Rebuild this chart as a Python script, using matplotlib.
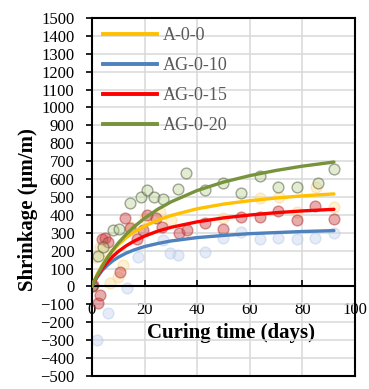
import matplotlib.pyplot as plt
from matplotlib.lines import Line2D

plt.rcParams['font.family'] = ['Liberation Serif', 'DejaVu Serif']

# measured points
a00_t = [0, 1, 3, 5, 7, 10, 12, 15, 20, 26, 30, 50, 64, 71, 78, 85, 92]
a00_y = [0, 166, 222, 200, 20, 55, 120, 330, 380, 418, 372, 381, 493, 502, 418, 558, 446]

ag10_t = [0, 1.8, 6.2, 13.2, 17.6, 27.1, 29.7, 32.9, 43, 50, 56.8, 63.9, 70.8, 77.8, 84.8, 92]
ag10_y = [0, -299, -150, -10, 166, 260, 185, 176, 194, 269, 306, 264, 269, 264, 269, 300]

ag15_t = [0, 0.5, 2.4, 3, 3.7, 5, 6, 10.6, 12.5, 14.4, 17, 19.5, 20.8, 24.3, 26.8, 33, 36, 43, 50,
          56.8, 63.9, 70.8, 77.8, 84.8, 92]
ag15_y = [0, 8, -94, -47, 267, 270, 250, 83, 381, 325, 264, 316, 399, 381, 331, 301, 316, 353, 320,
          390, 390, 423, 372, 451, 377]

ag20_t = [0, 2.4, 4.3, 8, 10.4, 14.4, 18.6, 20.8, 23.8, 26.9, 32.6, 35.7, 43, 49.9, 56.8, 63.9,
          70.8, 77.8, 86, 92]
ag20_y = [0, 170, 220, 316, 320, 465, 498, 539, 502, 490, 545, 632, 539, 576, 524, 617, 554, 558,
          576, 655]

# trend curves
fit_t = [0, 1, 2, 4, 6, 8, 10, 13, 16, 20, 25, 30, 40, 50, 60, 70, 80, 92]
fit_a00 = [0, 36, 67, 121, 166, 202, 233, 272, 304, 337, 370, 396, 434, 460, 479, 494, 506, 517]
fit_ag10 = [0, 28, 52, 91, 120, 144, 163, 186, 204, 223, 240, 254, 273, 285, 295, 301, 307, 312]
fit_ag15 = [0, 30, 56, 101, 138, 169, 195, 227, 253, 281, 309, 330, 361, 383, 399, 412, 422, 431]
fit_ag20 = [0, 32, 62, 115, 163, 205, 242, 291, 333, 381, 431, 472, 536, 583, 619, 648, 672, 695]

labels = ['A-0-0', 'AG-0-10', 'AG-0-15', 'AG-0-20']
line_colors = ['#FFC000', '#4F81BD', '#FF0000', '#77933C']

fig = plt.figure(figsize=(3.69, 3.89), dpi=100)
ax = fig.add_axes([0.249, 0.0334, 0.713, 0.9206])

ax.set_xlim(0, 100)
ax.set_ylim(-500, 1500)
ax.set_xticks(range(0, 101, 20))
ax.set_yticks(range(-500, 1501, 100))
ax.grid(True, color='#d9d9d9', linewidth=1.1)
ax.set_axisbelow(True)

# scatter of measurements
ax.scatter(ag10_t, ag10_y, s=60, facecolor=(0.78, 0.84, 0.94, 0.45), edgecolor=(0.70, 0.78, 0.90, 0.45),
           linewidth=1, zorder=2)
ax.scatter(a00_t, a00_y, s=60, facecolor=(1.0, 0.88, 0.60, 0.45), edgecolor=(0.98, 0.82, 0.55, 0.45),
           linewidth=1, zorder=2)
ax.scatter(ag15_t, ag15_y, s=60, facecolor=(0.80, 0.28, 0.28, 0.45), edgecolor=(0.70, 0.20, 0.20, 0.5),
           linewidth=1, zorder=2)
ax.scatter(ag20_t, ag20_y, s=60, facecolor=(0.72, 0.82, 0.55, 0.4), edgecolor=(0.30, 0.33, 0.25, 0.5),
           linewidth=1, zorder=2)

# trend lines
for ys, c in zip([fit_a00, fit_ag10, fit_ag15, fit_ag20], line_colors):
    ax.plot(fit_t, ys, color=c, linewidth=2.4, solid_capstyle='round', zorder=3)

for s in ['left', 'right', 'top']:
    ax.spines[s].set_linewidth(1.5)
ax.spines['bottom'].set_position(('data', 0))
ax.spines['bottom'].set_linewidth(1.5)
ax.axhline(-500, color='black', linewidth=1.5, clip_on=False, zorder=5)

ax.tick_params(axis='y', direction='out', length=4.5, width=1.2, labelsize=12, pad=8)
ax.tick_params(axis='x', direction='in', length=4, width=1.2, labelsize=12, pad=11)

ax.set_xlabel('Curing time (days)', fontsize=15, fontweight='bold')
ax.xaxis.set_label_coords(0.53, 0.148)
fig.text(0.077, 0.462, 'Shrinkage (μm/m)', rotation=90, fontsize=15, fontweight='bold',
         ha='center', va='center')

handles = [Line2D([], [], color=c, linewidth=2.8) for c in line_colors]
leg = ax.legend(handles, labels, loc='upper left', frameon=False, fontsize=13,
                handlelength=3.0, handletextpad=0.3, labelspacing=0.72,
                bbox_to_anchor=(0.015, 0.994), borderaxespad=0)
for t in leg.get_texts():
    t.set_color('#595959')

fig.savefig('out.png', dpi=100)
